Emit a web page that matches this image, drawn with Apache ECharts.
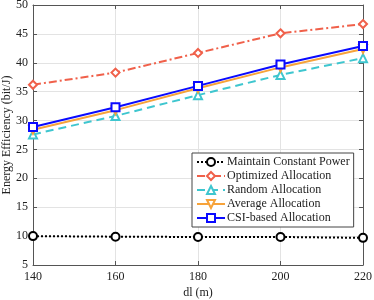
<!DOCTYPE html>
<html><head><meta charset="utf-8">
<script src="https://cdn.jsdelivr.net/npm/echarts@6/dist/echarts.min.js"></script>
<style>html,body{margin:0;padding:0;background:#fff}#c{width:374px;height:300px}</style>
</head><body><div id="c"></div>
<script>
var categories = [140, 160, 180, 200, 220];
var constantPower = [10.0, 9.9, 9.85, 9.85, 9.7];
var optimized = [36.2, 38.3, 41.7, 45.1, 46.7];
var randomAlloc = [27.6, 30.8, 34.4, 37.9, 40.8];
var averageAlloc = [28.4, 31.8, 35.6, 39.2, 42.4];
var csiAlloc = [28.9, 32.3, 36.0, 39.7, 42.9];
var yTicks = [5, 10, 15, 20, 25, 30, 35, 40, 45, 50];

var font = 'Liberation Serif';
function pairs(arr){ return categories.map(function(x,i){return [x, arr[i]];}); }
function ser(name, data, color, symbol, type, rot, z){
  return {name:name, type:'line', data:pairs(data), symbol:symbol, symbolSize:8, symbolRotate:rot||0,
    lineStyle:{color:color, width:2, type:type}, itemStyle:{color:'#fff', borderColor:color, borderWidth:2},
    z: z||2};
}
var chart = echarts.init(document.getElementById('c'));
var axisCommon = {axisLine:{show:true, lineStyle:{color:'#555', width:1}}, axisTick:{inside:true, length:4, lineStyle:{color:'#555'}}};
chart.setOption({
  animation:false,
  textStyle:{fontFamily:font},
  grid:{left:33, right:11, top:5, bottom:35, containLabel:false, outerBoundsMode:'none'},
  xAxis:[
    Object.assign({type:'value', min:140, max:220, interval:20, name:'dl (m)', nameLocation:'middle', nameGap:22,
      nameMoveOverlap:false,
      nameTextStyle:{fontFamily:font, fontSize:12, color:'#222'},
      axisLabel:{fontFamily:font, fontSize:12, color:'#222', margin:6},
      splitLine:{show:true, lineStyle:{color:'#e3e3e3'}}}, axisCommon),
    Object.assign({type:'value', position:'top', min:140, max:220, interval:20, axisLabel:{show:false}, splitLine:{show:false}}, axisCommon)
  ],
  yAxis:[
    Object.assign({type:'value', min:5, max:50, interval:5, name:'Energy Efficiency (bit/J)', nameLocation:'middle', nameGap:20,
      nameMoveOverlap:false,
      nameTextStyle:{fontFamily:font, fontSize:12, color:'#222'},
      axisLabel:{fontFamily:font, fontSize:12, color:'#222', margin:5},
      splitLine:{show:true, lineStyle:{color:'#e3e3e3'}}}, axisCommon),
    Object.assign({type:'value', position:'right', min:5, max:50, interval:5, axisLabel:{show:false}, splitLine:{show:false}}, axisCommon)
  ],
  legend:{orient:'vertical', left:192, top:153, itemGap:2, itemWidth:28, itemHeight:10,
    backgroundColor:'#fff', borderColor:'#444', borderWidth:1, padding:[3,4,3,4],
    textStyle:{fontFamily:font, fontSize:12, color:'#222', padding:[0,0,0,-3]},
    data:['Maintain Constant Power','Optimized Allocation','Random Allocation','Average Allocation','CSI-based Allocation']},
  series:[
    ser('Maintain Constant Power', constantPower, '#000', 'circle', 'dotted'),
    ser('Optimized Allocation', optimized, '#f0604a', 'diamond', [8,3,2,3]),
    ser('Random Allocation', randomAlloc, '#3ec6cf', 'triangle', [8,5]),
    ser('Average Allocation', averageAlloc, '#f7a33a', 'triangle', 'solid', 180),
    ser('CSI-based Allocation', csiAlloc, '#0a0aff', 'rect', 'solid', 0, 3)
  ]
});
</script></body></html>
